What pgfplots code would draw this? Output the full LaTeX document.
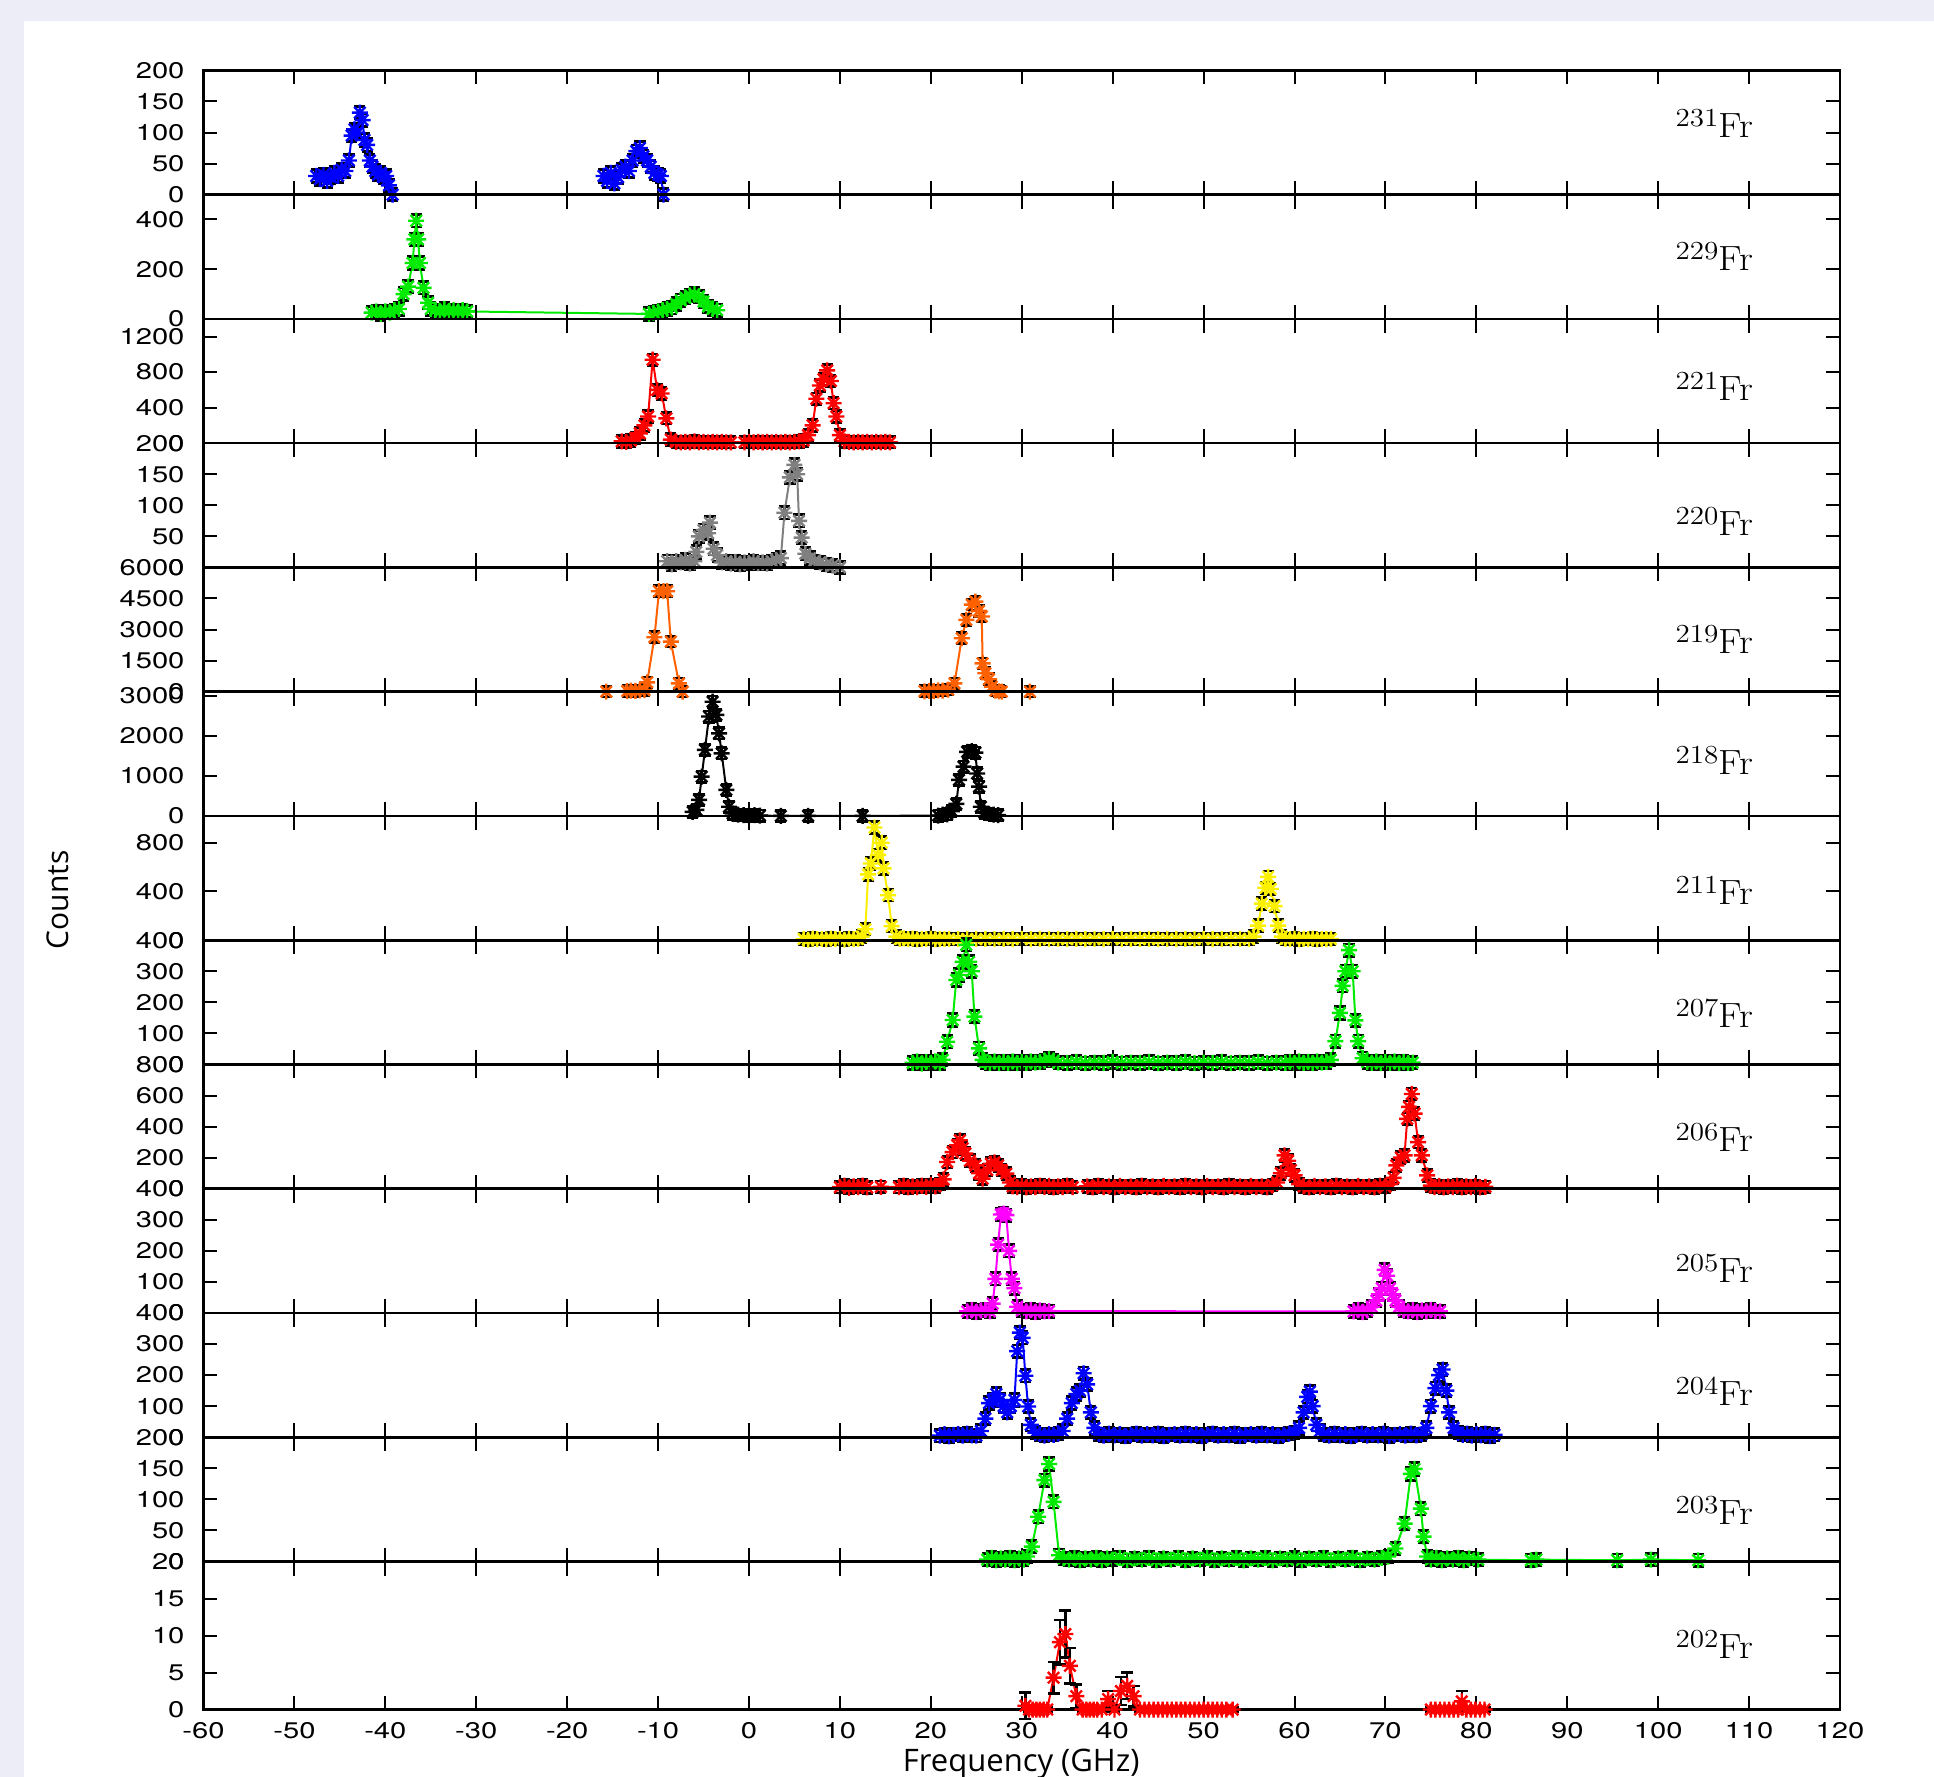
\documentclass[border=0pt]{standalone}
\usepackage{fontspec}
\usepackage{pgfplots}
\pgfplotsset{compat=1.18}
\newfontfamily\tickfont[FakeStretch=1.29]{TeX Gyre Heros}
\newfontfamily\labfont{Open Sans}
\newfontfamily\frfont[FakeStretch=1.12]{Latin Modern Roman}

\definecolor{gpblue}{RGB}{0,0,255}
\definecolor{gpgreen}{RGB}{0,235,0}
\definecolor{gpred}{RGB}{255,0,0}
\definecolor{gpgrey}{RGB}{128,128,128}
\definecolor{gporange}{RGB}{255,96,0}
\definecolor{gpyellow}{RGB}{250,240,0}
\definecolor{gpmagenta}{RGB}{255,0,255}
\definecolor{bglav}{RGB}{237,237,247}

% gnuplot style "*" point: + and x together
\pgfdeclareplotmark{gpstar}{%
  \pgfpathmoveto{\pgfqpoint{-\pgfplotmarksize}{0pt}}\pgfpathlineto{\pgfqpoint{\pgfplotmarksize}{0pt}}%
  \pgfpathmoveto{\pgfqpoint{0pt}{-\pgfplotmarksize}}\pgfpathlineto{\pgfqpoint{0pt}{\pgfplotmarksize}}%
  \pgfpathmoveto{\pgfqpoint{-0.707\pgfplotmarksize}{-0.707\pgfplotmarksize}}\pgfpathlineto{\pgfqpoint{0.707\pgfplotmarksize}{0.707\pgfplotmarksize}}%
  \pgfpathmoveto{\pgfqpoint{-0.707\pgfplotmarksize}{0.707\pgfplotmarksize}}\pgfpathlineto{\pgfqpoint{0.707\pgfplotmarksize}{-0.707\pgfplotmarksize}}%
  \pgfusepathqstroke}

\pgfplotsset{
  panel/.style={
    scale only axis, width=818.25pt, height=62.13pt, anchor=north west,
    xmin=-60, xmax=120, xtick={-60,-50,...,120},
    ymin=0, tick align=inside, major tick length=7pt,
    axis line style={line width=1.3pt},
    every tick/.style={black, line width=1pt},
    yticklabel style={font=\tickfont\fontsize{11.3}{12}\selectfont, xshift=-6pt},
    xticklabel style={font=\tickfont\fontsize{11.3}{12}\selectfont, yshift=-3pt},
    /pgf/number format/assume math mode=true,
    /pgf/number format/1000 sep={},
    clip=false, axis on top,
  },
  nolab/.style={xticklabels={}},
  gp/.style={line width=1pt, mark=gpstar, mark size=4pt,
    mark options={solid, line width=1.2pt},
    error bars/y dir=both, error bars/y fixed=#1,
    error bars/error bar style={black, line width=1.3pt},
    error bars/error mark options={black, rotate=90, mark size=2.8pt, line width=1.4pt}},
}
\newcommand{\iso}[2]{\node[anchor=east, inner sep=0pt, font=\frfont\fontsize{17.5}{19}\selectfont] at (rel axis cs:0.947,#1) {{\fontsize{13}{14}\selectfont\raisebox{5.5pt}{#2}}Fr};}

\begin{document}
\begin{tikzpicture}
\useasboundingbox (0,0) rectangle (967pt,888.5pt);
\fill[bglav] (0,0) rectangle (967pt,888.5pt);
\fill[white] (12pt,0) rectangle (967pt,878.15pt);

% 231Fr
\begin{axis}[panel, nolab, at={(101.75pt,853.3pt)}, ymax=200, ytick={0,50,100,150,200}]
\addplot[gpblue, gp=10] coordinates {(-47.6,30)(-47.2,25)(-46.8,32)(-46.4,22)(-46,28)(-45.6,35)(-45.2,30)(-44.8,40)(-44.4,38)(-44,55)(-43.7,95)(-43.4,105)(-43.1,100)(-42.8,132)(-42.5,120)(-42.3,88)(-42,80)(-41.7,55)(-41.4,45)(-41.1,38)(-40.8,32)(-40.5,35)(-40.2,28)(-39.9,30)(-39.6,15)(-39.2,0)};
\addplot[gpblue, gp=10] coordinates {(-16,30)(-15.6,22)(-15.2,35)(-14.8,18)(-14.4,28)(-14,40)(-13.6,45)(-13.2,38)(-12.8,55)(-12.4,70)(-12,75)(-11.6,62)(-11.2,55)(-10.8,45)(-10.4,35)(-10,32)(-9.7,30)(-9.4,0)};
\iso{0.57}{231}
\end{axis}

% 229Fr
\begin{axis}[panel, nolab, at={(101.75pt,791.17pt)}, ymax=500, ytick={0,200,400}]
\addplot[gpgreen, gp=25] coordinates {(-41.5,25)(-41,30)(-40.5,20)(-40,30)(-39.5,25)(-39,35)(-38.5,40)(-38,100)(-37.5,130)(-37,225)(-36.8,320)(-36.6,395)(-36.4,320)(-36.2,225)(-35.8,125)(-35.3,65)(-35,40)(-34.5,35)(-34,30)(-33.5,40)(-33,30)(-32.5,35)(-32,30)(-31.5,35)(-31,30)(-11,20)(-10.5,25)(-10,30)(-9.5,35)(-9,40)(-8.5,45)(-8,60)(-7.5,75)(-7,85)(-6.5,95)(-6,100)(-5.5,90)(-5,70)(-4.5,50)(-4,40)(-3.5,35)};
\iso{0.50}{229}
\end{axis}

% 221Fr
\begin{axis}[panel, nolab, at={(101.75pt,729.04pt)}, ymax=1400, ytick={0,400,800,1200}]
\addplot[gpred, gp=65] coordinates {(-14,20)(-13.5,15)(-13,30)(-12.5,60)(-12,110)(-11.5,200)(-11.1,300)(-10.6,940)(-10.1,600)(-9.6,560)(-9.1,280)(-8.6,40)(-8,15)(-7.5,10)(-7,15)(-6.5,10)(-6,20)(-5.5,10)(-5,15)(-4.5,10)(-4,15)(-3.5,10)(-3,15)(-2.5,10)(-2,10)};
\addplot[gpred, gp=65] coordinates {(-0.5,10)(0,15)(0.5,10)(1,15)(1.5,10)(2,15)(2.5,10)(3,15)(3.5,10)(4,15)(4.5,10)(5,15)(5.5,20)(6,30)(6.5,90)(7,200)(7.4,500)(7.8,650)(8.2,720)(8.6,820)(9,700)(9.3,450)(9.6,300)(10,90)(10.5,20)(11,15)(11.5,10)(12,15)(12.5,10)(13,15)(13.5,10)(14,15)(14.5,10)(15,15)(15.5,10)};
\iso{0.455}{221}
\end{axis}

% 220Fr
\begin{axis}[panel, nolab, at={(101.75pt,666.91pt)}, ymax=200, ytick={0,50,100,150,200}]
\addplot[gpgrey, gp=10] coordinates {(-9,10)(-8.5,5)(-8,10)(-7.5,8)(-7,12)(-6.5,6)(-6,10)(-5.8,25)(-5.5,50)(-5,60)(-4.5,55)(-4.3,72)(-3.9,30)(-3.5,20)(-3,8)(-2.5,10)(-2,6)(-1.5,9)(-1,5)(-0.5,8)(0,6)(0.5,10)(1,7)(1.5,8)(2,6)(2.5,10)(3,12)(3.5,15)(3.9,88)(4.5,145)(5,165)(5.3,150)(5.5,75)(5.8,48)(6.2,22)(6.7,15)(7.2,10)(7.8,8)(8.5,5)(9.2,3)(10,0)};
\iso{0.37}{220}
\end{axis}

% 219Fr
\begin{axis}[panel, nolab, at={(101.75pt,604.78pt)}, ymax=6000, ytick={0,1500,3000,4500,6000}]
\addplot[gporange, gp=260] coordinates {(-15.7,0)(-13.4,30)(-13,50)(-12.5,40)(-12,60)(-11.5,80)(-11.2,450)(-10.4,2630)(-9.9,4850)(-9.4,4850)(-9,4850)(-8.6,2420)(-7.7,400)(-7.3,0)(19.3,20)(19.8,40)(20.3,30)(20.8,60)(21.3,50)(21.9,100)(22.6,400)(23.4,2580)(23.9,3470)(24.5,4200)(24.9,4350)(25.3,3900)(25.6,3630)(25.7,1370)(26,890)(26.4,600)(26.7,240)(27.1,50)(27.5,20)(27.8,0)(30.9,0)};
\iso{0.42}{219}
\end{axis}

% 218Fr
\begin{axis}[panel, nolab, at={(101.75pt,542.65pt)}, ymax=3100, ytick={0,1000,2000,3000}]
\addplot[black, gp=140] coordinates {(-6.2,100)(-5.8,150)(-5.5,400)(-5.2,980)(-4.85,1650)(-4.4,2480)(-4,2850)(-3.6,2520)(-3.3,2060)(-3,1560)(-2.5,650)(-2.2,230)(-1.8,60)(-1.2,30)(-0.6,20)(0,10)(0.6,20)(1.2,10)(3.5,0)(6.5,0)(12.5,0)(20.8,10)(21.3,30)(21.8,40)(22.3,120)(22.8,300)(23.1,900)(23.6,1230)(24,1600)(24.5,1620)(24.9,1580)(25.1,1060)(25.3,730)(25.5,230)(25.9,80)(26.4,50)(26.9,30)(27.4,20)};
\iso{0.45}{218}
\end{axis}

% 211Fr
\begin{axis}[panel, nolab, at={(101.75pt,480.52pt)}, ymax=1020, ytick={0,400,800}]
\addplot[gpyellow, gp=48] coordinates {(6,10)(6.5,5)(7,12)(7.5,8)(8,10)(8.5,6)(9,12)(9.5,8)(10,10)(10.5,5)(11,12)(11.5,8)(12,10)(12.4,30)(12.8,90)(13.1,540)(13.4,630)(13.8,925)(14.2,700)(14.6,800)(14.8,590)(15.3,370)(15.7,115)(16.2,30)(16.6,10)(17,15)(17.5,8)(18,12)(18.5,6)(19,10)(19.5,8)(20,12)(20.5,6)(21,10)(21.5,8)(22,10)(23,8)(24,10)(25,8)(26,10)(27,8)(28,10)(29,8)(30,10)(31,8)(32,10)(33,8)(34,10)(35,8)(36,10)(37,8)(38,10)(39,8)(40,10)(41,8)(42,10)(43,8)(44,10)(45,8)(46,10)(47,8)(48,10)(49,8)(50,10)(51,8)(52,10)(53,8)(54,10)(55,8)(55.5,30)(56,120)(56.4,300)(56.8,430)(57.1,520)(57.4,420)(57.8,280)(58.2,120)(58.6,30)(59,10)(59.5,8)(60,12)(60.5,6)(61,10)(61.5,8)(62,12)(62.5,6)(63,10)(63.5,8)(64,10)};
\iso{0.40}{211}
\end{axis}

% 207Fr
\begin{axis}[panel, nolab, at={(101.75pt,418.39pt)}, ymax=400, ytick={0,100,200,300,400}]
\addplot[gpgreen, gp=20] coordinates {(18,5)(18.5,10)(19,3)(19.5,8)(20,5)(20.5,10)(21,4)(21.3,15)(21.8,73)(22.4,143)(22.8,272)(23.1,288)(23.5,330)(23.9,385)(24.2,330)(24.5,300)(24.8,154)(25.3,52)(25.7,15)(26,8)(26.5,5)(27,10)(27.5,4)(28,8)(28.5,5)(29,10)(29.5,4)(30,8)(30.5,5)(31,10)(31.5,6)(32,8)(32.5,12)(33,18)(33.5,12)(34,6)(35,5)(36,8)(37,4)(38,6)(39,5)(40,8)(41,4)(42,6)(43,5)(44,8)(45,4)(46,6)(47,5)(48,8)(49,4)(50,6)(51,5)(52,8)(53,4)(54,6)(55,5)(56,8)(57,4)(58,6)(59,5)(59.5,8)(60,4)(60.5,10)(61,5)(61.5,8)(62,4)(62.5,10)(63,6)(63.5,8)(64,15)(64.5,75)(65,166)(65.3,253)(65.6,300)(66,368)(66.4,300)(66.7,142)(67,75)(67.5,20)(68,8)(68.5,5)(69,10)(69.5,4)(70,8)(70.5,5)(71,10)(71.5,4)(72,8)(72.5,5)(73,6)};
\iso{0.41}{207}
\end{axis}

% 206Fr
\begin{axis}[panel, nolab, at={(101.75pt,356.26pt)}, ymax=800, ytick={0,200,400,600,800}]
\addplot[gpred, gp=38] coordinates {(10,10)(10.5,20)(11,5)(11.5,15)(12,10)(12.5,20)(13,8)(14.5,12)(16.5,10)(17,20)(17.5,8)(18,15)(18.5,10)(19,20)(19.5,12)(20,25)(20.5,15)(21,30)(21.4,60)(21.8,172)(22.4,236)(22.9,280)(23.2,312)(23.5,260)(23.8,226)(24.3,180)(24.9,150)(25.3,100)(25.7,65)(26.2,120)(26.6,161)(27,170)(27.4,150)(27.8,120)(28.3,97)(28.7,40)(29,15)(29.5,10)(30,20)(30.5,8)(31,15)(31.5,10)(32,20)(32.5,12)(33,18)(33.5,8)(34,15)(34.5,10)(35,20)(35.6,10)(37.2,15)(37.8,8)(38.4,20)(39,10)(39.6,15)(40.2,8)(40.8,18)(41.4,10)(42,15)(42.6,8)(43.2,20)(43.8,10)(44.4,15)(45,8)(45.6,18)(46.2,10)(46.8,15)(47.4,8)(48,20)(48.6,10)(49.2,15)(49.8,8)(50.4,18)(51,10)(51.6,15)(52.2,8)(52.8,20)(53.4,10)(54,15)(54.6,8)(55.2,18)(55.8,10)(56.4,15)(57,8)(57.6,25)(58.1,40)(58.5,100)(58.9,215)(59.3,180)(59.6,120)(60,86)(60.5,30)(61,15)(61.6,8)(62.2,18)(62.8,10)(63.4,15)(64,8)(64.6,20)(65.2,10)(65.8,15)(66.4,8)(67,18)(67.6,10)(68.2,15)(68.8,8)(69.4,20)(70,12)(70.5,30)(70.9,70)(71.2,150)(71.7,200)(72.1,215)(72.4,450)(72.6,527)(72.9,610)(73.2,484)(73.6,300)(74,215)(74.6,86)(75,20)(75.4,10)(75.9,18)(76.4,8)(76.9,15)(77.4,10)(77.9,20)(78.4,8)(78.9,15)(79.4,10)(79.9,18)(80.4,8)(81,12)};
\iso{0.41}{206}
\end{axis}

% 205Fr
\begin{axis}[panel, nolab, at={(101.75pt,294.13pt)}, ymax=400, ytick={0,100,200,300,400}]
\addplot[gpmagenta, gp=20] coordinates {(24,5)(24.5,10)(25,3)(25.5,8)(26,10)(26.5,5)(26.8,30)(27.1,110)(27.4,220)(27.7,317)(28,320)(28.3,315)(28.6,200)(28.9,110)(29.2,80)(29.5,20)(30,8)(30.5,5)(31,10)(31.5,3)(32,8)(32.5,5)(33,6)(66.5,5)(67,10)(67.5,3)(68,8)(68.5,20)(69,40)(69.3,60)(69.6,80)(69.9,139)(70.2,120)(70.5,79)(70.8,60)(71.1,40)(71.5,20)(72,8)(72.5,5)(73,10)(73.5,3)(74,8)(74.5,5)(75,10)(75.5,6)(76,5)};
\iso{0.36}{205}
\end{axis}

% 204Fr
\begin{axis}[panel, nolab, at={(101.75pt,232pt)}, ymax=400, ytick={0,100,200,300,400}]
\addplot[gpblue, gp=20] coordinates {(21,5)(21.5,10)(22,3)(22.5,8)(23,10)(23.5,5)(24,12)(24.5,6)(25,5)(25.5,20)(26,60)(26.4,110)(26.8,120)(27.2,139)(27.6,120)(28,100)(28.4,80)(28.8,100)(29.2,120)(29.5,277)(29.8,337)(30.1,320)(30.4,198)(30.7,99)(31,40)(31.5,15)(32,10)(32.5,5)(33,10)(33.5,8)(34,12)(34.5,20)(35,60)(35.5,110)(36,139)(36.4,150)(36.8,206)(37.2,170)(37.6,80)(38,30)(38.5,10)(39,5)(39.6,12)(40.2,6)(40.8,10)(41.4,4)(42,8)(42.6,12)(43.2,5)(43.8,10)(44.4,6)(45,12)(45.6,4)(46.2,8)(46.8,10)(47.4,5)(48,12)(48.6,6)(49.2,10)(49.8,4)(50.4,8)(51,12)(51.6,5)(52.2,10)(52.8,6)(53.4,12)(54,4)(54.6,8)(55.2,10)(55.8,5)(56.4,12)(57,6)(57.6,10)(58.2,4)(58.8,8)(59.4,12)(60,15)(60.5,30)(61,80)(61.4,130)(61.7,147)(62,100)(62.4,40)(62.8,20)(63.2,10)(63.8,5)(64.4,12)(65,6)(65.6,10)(66.2,4)(66.8,8)(67.4,12)(68,5)(68.6,10)(69.2,6)(69.8,12)(70.4,4)(71,8)(71.6,10)(72.2,5)(72.8,12)(73.4,6)(74,10)(74.5,30)(75,100)(75.5,158)(75.9,200)(76.3,218)(76.7,150)(77,80)(77.5,30)(78,15)(78.5,8)(79,12)(79.5,5)(80,10)(80.5,6)(81,12)(81.5,4)(82,8)};
\iso{0.37}{204}
\end{axis}

% 203Fr
\begin{axis}[panel, nolab, at={(101.75pt,169.87pt)}, ymax=200, ytick={0,50,100,150,200}]
\addplot[gpgreen, gp=10] coordinates {(26.2,3)(26.7,6)(27.2,2)(27.7,5)(28.2,3)(28.7,6)(29.2,2)(29.7,5)(30.2,3)(30.6,8)(31.1,24)(31.8,72)(32.5,131)(33,157)(33.5,96)(34.1,10)(34.6,5)(35.2,3)(35.8,6)(36.4,2)(37,5)(37.6,3)(38.2,6)(38.8,2)(39.4,5)(40,3)(40.8,6)(41.6,2)(42.4,5)(43.2,3)(44,6)(44.8,2)(45.6,5)(46.4,3)(47.2,6)(48,2)(48.8,5)(49.6,3)(50.4,6)(51.2,2)(52,5)(52.8,3)(53.6,6)(54.4,2)(55.2,5)(56,3)(56.8,6)(57.6,2)(58.4,5)(59.2,3)(60,6)(60.8,2)(61.6,5)(62.4,3)(63.2,6)(64,2)(64.8,5)(65.6,3)(66.4,6)(67.2,2)(68,5)(68.8,3)(69.6,6)(70.3,8)(71.1,21)(72.1,61)(72.8,141)(73.2,149)(73.9,85)(74.2,40)(74.6,8)(75,3)(75.6,6)(76.2,2)(76.8,5)(77.4,3)(78,6)(78.6,2)(79.2,5)(80.2,3)(86,2)(86.6,3)(95.5,2)(99.2,3)(104.4,2)};
\iso{0.41}{203}
\end{axis}

% 202Fr
\begin{axis}[panel, at={(101.75pt,107.74pt)}, height=74pt, ymax=20, ytick={0,5,10,15,20}]
\addplot[gpred, line width=1pt, mark=gpstar, mark size=4pt, mark options={solid, line width=1.2pt},
  error bars/y dir=both, error bars/y explicit,
  error bars/error bar style={black, line width=1.2pt},
  error bars/error mark options={black, rotate=90, mark size=3pt, line width=1.3pt}]
  table[x index=0, y index=1, y error index=2] {
30.4 0.5 1.8
30.8 0 0.3
31.2 0 0.3
31.6 0 0.3
32.0 0 0.3
32.4 0 0.3
32.8 0 0.3
33.5 4.3 2.1
34.2 9.1 3.0
34.8 10.2 3.2
35.3 5.9 2.4
36.0 1.8 1.6
36.7 0 0.3
37.1 0 0.3
37.5 0 0.3
37.9 0 0.3
38.3 0 0.3
38.8 0 0.3
39.5 1.4 1.1
40.2 0 0.3
40.9 2.5 1.9
41.6 3.2 1.8
42.3 1.8 1.4
43.0 0 0.3
43.5 0 0.3
44.0 0 0.3
44.5 0 0.3
45.0 0 0.3
45.5 0 0.3
46.0 0 0.3
46.5 0 0.3
47.0 0 0.3
47.5 0 0.3
48.0 0 0.3
48.5 0 0.3
49.0 0 0.3
49.5 0 0.3
50.0 0 0.3
50.5 0 0.3
51.0 0 0.3
51.5 0 0.3
52.0 0 0.3
52.5 0 0.3
53.2 0 0.3
75.0 0 0.3
75.5 0 0.3
76.0 0 0.3
76.5 0 0.3
77.0 0 0.3
77.5 0 0.3
78.0 0 0.3
78.4 1.1 1.4
78.9 0 0.3
79.4 0 0.3
79.9 0 0.3
80.4 0 0.3
80.9 0 0.3
};
\iso{0.44}{202}
\end{axis}

\node[rotate=90, font=\labfont\fontsize{15}{17}\selectfont] at (29pt,438.5pt) {Counts};
\node[font=\labfont\fontsize{15.5}{17}\selectfont] at (510.6pt,6.5pt) {Frequency (GHz)};
\end{tikzpicture}
\end{document}
